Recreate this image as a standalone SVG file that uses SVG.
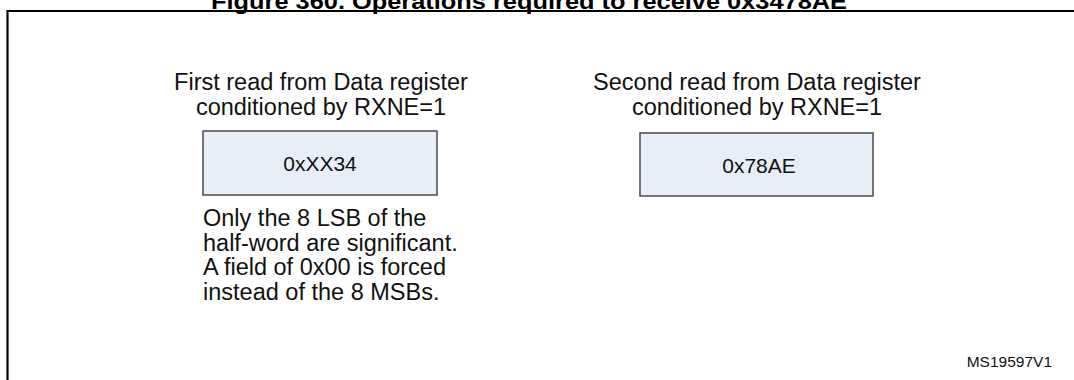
<svg xmlns="http://www.w3.org/2000/svg" width="1074" height="380" viewBox="0 0 1074 380">
<style>
.t{font-family:"Liberation Sans",Arial,sans-serif;font-size:23.5px;fill:#111}
.c{text-anchor:middle}
.box{fill:#E8EEF7;stroke:#4a4a4a;stroke-width:1.5}
.v{font-family:"Liberation Sans",Arial,sans-serif;font-size:21px;fill:#111;text-anchor:middle}
</style>
<rect width="1074" height="380" fill="#fff"/>
<text x="529" y="9" font-family="Liberation Sans,Arial,sans-serif" font-weight="bold" font-size="22" text-anchor="middle" textLength="636" lengthAdjust="spacingAndGlyphs" fill="#000">Figure 360. Operations required to receive 0x3478AE</text>
<path d="M7.5 380 V11 H1076" fill="none" stroke="#000" stroke-width="2.2"/>
<g id="first-read">
<text class="t c" x="321" y="90">First read from Data register</text>
<text class="t c" x="321" y="114.5">conditioned by RXNE=1</text>
<rect class="box" x="203" y="131" width="234" height="64"/>
<text class="v" x="320" y="171">0xXX34</text>
<text class="t" x="203" y="226">Only the 8 LSB of the</text>
<text class="t" x="203" y="250.5">half-word are significant.</text>
<text class="t" x="203" y="275">A field of 0x00 is forced</text>
<text class="t" x="203" y="299.5">instead of the 8 MSBs.</text>
</g>
<g id="second-read">
<text class="t c" x="757" y="90">Second read from Data register</text>
<text class="t c" x="757" y="114.5">conditioned by RXNE=1</text>
<rect class="box" x="640" y="133" width="233" height="63"/>
<text class="v" x="759" y="173">0x78AE</text>
</g>
<g id="connectors"/>
<text x="1052" y="367" font-family="Liberation Sans,Arial,sans-serif" font-size="15.5" text-anchor="end" fill="#111">MS19597V1</text>
</svg>
